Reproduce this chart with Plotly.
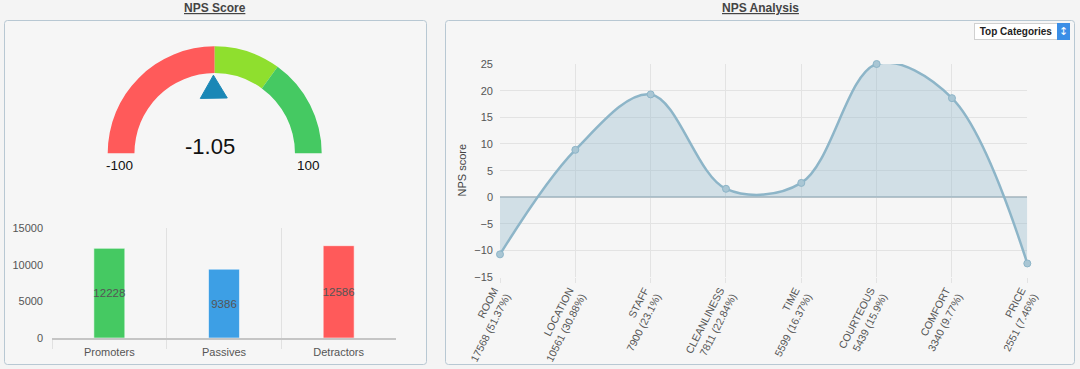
import math
import plotly.graph_objects as go

# ---------------- data ----------------
gauge_bounds = [-100, 0, 40, 100]
gauge_colors = ["#ff5a5a", "#8fdf2e", "#45c962"]
nps_value = -1.05

bar_categories = ["Promoters", "Passives", "Detractors"]
bar_values = [12228, 9386, 12586]
bar_colors = ["#45c962", "#3d9fe5", "#ff5a5a"]

categories = ["ROOM", "LOCATION", "STAFF", "CLEANLINESS", "TIME", "COURTEOUS", "COMFORT", "PRICE"]
category_counts = [17568, 10561, 7900, 7811, 5599, 5439, 3340, 2551]
category_pcts = ["51.37", "30.88", "23.1", "22.84", "16.37", "15.9", "9.77", "7.46"]
nps_scores = [-10.7, 8.9, 19.3, 1.6, 2.7, 25.0, 18.6, -12.4]

# ---------------- layout helpers ----------------
W, H = 1080, 369


def px(x):
    return x / W


def py(y):
    return 1 - y / H


def rounded_rect(x0, y0, x1, y1, r=3):
    pts = [
        f"M{px(x0 + r)},{py(y0)}",
        f"L{px(x1 - r)},{py(y0)}",
        f"Q{px(x1)},{py(y0)} {px(x1)},{py(y0 + r)}",
        f"L{px(x1)},{py(y1 - r)}",
        f"Q{px(x1)},{py(y1)} {px(x1 - r)},{py(y1)}",
        f"L{px(x0 + r)},{py(y1)}",
        f"Q{px(x0)},{py(y1)} {px(x0)},{py(y1 - r)}",
        f"L{px(x0)},{py(y0 + r)}",
        f"Q{px(x0)},{py(y0)} {px(x0 + r)},{py(y0)}",
        "Z",
    ]
    return " ".join(pts)


FONT = "Liberation Sans, Arial, Helvetica, sans-serif"

fig = go.Figure()

# ---------------- gauge ----------------
g_cx, g_cy, g_r = 214.7, 153.3, 107
g_dom_x = [px(g_cx - g_r), px(g_cx + g_r)]
g_dom_y = [py(g_cy + g_r), py(g_cy - g_r)]

seg_vals = [gauge_bounds[i + 1] - gauge_bounds[i] for i in range(len(gauge_bounds) - 1)]
span = gauge_bounds[-1] - gauge_bounds[0]
fig.add_trace(go.Pie(
    values=seg_vals + [span],
    marker=dict(colors=gauge_colors + ["rgba(0,0,0,0)"], line=dict(width=0)),
    hole=0.75,
    sort=False,
    direction="clockwise",
    rotation=270,
    textinfo="none",
    hoverinfo="skip",
    showlegend=False,
    domain=dict(x=g_dom_x, y=g_dom_y),
))

# pointer triangle, placed from the value
frac = (nps_value - gauge_bounds[0]) / span
theta = math.pi * (1 - frac)
r_tip, r_base, half_w = 0.73, 0.515, 0.126
ux, uy = math.cos(theta), math.sin(theta)
vx, vy = math.sin(theta), -math.cos(theta)
tri_x = [r_tip * ux, r_base * ux + half_w * vx, r_base * ux - half_w * vx, r_tip * ux]
tri_y = [r_tip * uy, r_base * uy + half_w * vy, r_base * uy - half_w * vy, r_tip * uy]
fig.add_trace(go.Scatter(
    x=tri_x, y=tri_y, mode="lines", fill="toself",
    fillcolor="#1a87b6", line=dict(color="#1a87b6", width=1),
    hoverinfo="skip", showlegend=False, xaxis="x3", yaxis="y3",
))

# ---------------- bar chart ----------------
fig.add_trace(go.Bar(
    x=bar_categories, y=bar_values,
    marker=dict(color=bar_colors, line=dict(color="rgba(255,255,255,0.55)", width=1)),
    width=0.27,
    text=[str(v) for v in bar_values],
    textposition="inside", insidetextanchor="middle", textangle=0,
    constraintext="none", cliponaxis=False,
    textfont=dict(color="#555", size=11.5, family=FONT),
    showlegend=False, xaxis="x", yaxis="y",
))

# ---------------- NPS analysis ----------------
tick_text = [f"{c}<br>{n} ({p}%)" for c, n, p in zip(categories, category_counts, category_pcts)]
fig.add_trace(go.Scatter(
    x=categories, y=nps_scores,
    mode="lines+markers",
    line=dict(shape="spline", color="#8db5c8", width=2.5),
    fill="tozeroy", fillcolor="rgba(141,181,200,0.35)",
    marker=dict(size=7, color="#a9c6d4", line=dict(color="#8db5c8", width=1)),
    cliponaxis=False,
    showlegend=False, xaxis="x2", yaxis="y2",
))

# ---------------- panels ----------------
shapes = [
    dict(type="path", xref="paper", yref="paper", path=rounded_rect(4.5, 20.5, 426.5, 364.5),
         fillcolor="#f6f6f6", line=dict(color="#b8c8d3", width=1), layer="below"),
    dict(type="path", xref="paper", yref="paper", path=rounded_rect(445.5, 20.5, 1074.5, 364.5),
         fillcolor="#f6f6f6", line=dict(color="#b8c8d3", width=1), layer="below"),
]

annotations = [
    dict(text="<b><u>NPS Score</u></b>", x=px(215), y=py(8), xref="paper", yref="paper",
         xanchor="center", yanchor="middle",
         showarrow=False, font=dict(size=12, color="#444", family=FONT)),
    dict(text="<b><u>NPS Analysis</u></b>", x=px(760), y=py(8), xref="paper", yref="paper",
         xanchor="center", yanchor="middle",
         showarrow=False, font=dict(size=12, color="#444", family=FONT)),
    dict(text=f"{nps_value:.2f}", x=-0.04, y=0.06, xref="x3", yref="y3", showarrow=False,
         font=dict(size=22, color="#111", family=FONT)),
    dict(text=str(gauge_bounds[0]), x=-0.894, y=-0.11, xref="x3", yref="y3", showarrow=False,
         font=dict(size=13.5, color="#111", family=FONT)),
    dict(text=str(gauge_bounds[-1]), x=0.872, y=-0.11, xref="x3", yref="y3", showarrow=False,
         font=dict(size=13.5, color="#111", family=FONT)),
    dict(text="NPS score", textangle=-90, x=px(461), y=py(170.5), xref="paper", yref="paper",
         xanchor="center", yanchor="middle",
         showarrow=False, font=dict(size=11, color="#444", family=FONT)),
    dict(text="<b>Top Categories</b>", x=px(1015.5), y=py(31.7), xref="paper", yref="paper",
         xanchor="center", yanchor="middle",
         showarrow=False, width=80, height=13, bgcolor="#ffffff", bordercolor="#d0d0d0",
         borderwidth=1, borderpad=1, font=dict(size=10, color="#222", family=FONT)),
    dict(text="↕", x=px(1063.8), y=py(31.7), xref="paper", yref="paper",
         xanchor="center", yanchor="middle",
         showarrow=False, width=9, height=13, bgcolor="#3a8ee6", bordercolor="#3a8ee6",
         borderwidth=1, borderpad=1, font=dict(size=11, color="#ffffff", family="DejaVu Sans")),
]

fig.update_layout(
    width=W, height=H,
    margin=dict(l=0, r=0, t=0, b=0, autoexpand=False),
    paper_bgcolor="#f4f4f4",
    plot_bgcolor="rgba(0,0,0,0)",
    font=dict(family=FONT, color="#555"),
    shapes=shapes,
    annotations=annotations,
    xaxis=dict(
        domain=[px(52), px(396)], anchor="y", type="category", automargin=False,
        tickson="boundaries", showgrid=True, gridcolor="#e1e1e1", gridwidth=1,
        ticks="outside", ticklen=9, tickcolor="#e1e1e1", ticklabelstandoff=3,
        showline=True, linecolor="#c5c5c5", linewidth=1.5,
        tickfont=dict(size=11, color="#555"), fixedrange=True,
    ),
    yaxis=dict(
        domain=[py(338), py(228)], anchor="x", range=[0, 15000], automargin=False,
        tickvals=[0, 5000, 10000, 15000], tickformat="d", showgrid=False, zeroline=False,
        ticklabelstandoff=8, tickfont=dict(size=11, color="#555"), fixedrange=True,
    ),
    xaxis2=dict(
        domain=[px(500), px(1027.3)], anchor="y2", type="category", automargin=False,
        range=[0, len(categories) - 1],
        tickvals=categories, ticktext=tick_text, tickangle=-63,
        showgrid=True, gridcolor="#e3e3e3", gridwidth=1,
        ticks="outside", ticklen=5, tickcolor="#e3e3e3",
        tickfont=dict(size=10.5, color="#555"), fixedrange=True,
    ),
    yaxis2=dict(
        domain=[py(277.3), py(64)], anchor="x2", range=[-15, 25], dtick=5, tick0=0,
        automargin=False,
        showgrid=True, gridcolor="#e3e3e3", gridwidth=1,
        zeroline=True, zerolinecolor="#b9c4ca", zerolinewidth=1.5,
        ticklabelstandoff=6, tickfont=dict(size=11, color="#555"), fixedrange=True,
    ),
    xaxis3=dict(domain=g_dom_x, anchor="y3", range=[-1, 1], visible=False, fixedrange=True,
                automargin=False),
    yaxis3=dict(domain=g_dom_y, anchor="x3", range=[-1, 1], visible=False, fixedrange=True,
                automargin=False),
)

fig.write_html(
    "out.html",
    config={"displayModeBar": False},
    post_script="document.body.style.margin='0';document.body.style.background='#f4f4f4';",
)
